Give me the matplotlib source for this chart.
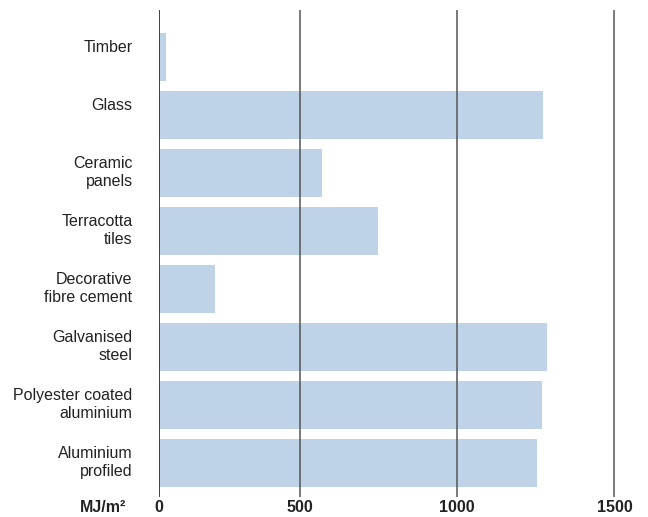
import matplotlib
matplotlib.use("Agg")
import matplotlib.pyplot as plt

categories = ["Timber", "Glass", "Ceramic\npanels", "Terracotta\ntiles",
              "Decorative\nfibre cement", "Galvanised\nsteel",
              "Polyester coated\naluminium", "Aluminium\nprofiled"]
values = [74, 1273, 570, 748, 230, 1285, 1269, 1254]
tick_values = [500, 1000, 1500]
tick_labels = ["500", "1000", "1500"]
unit_label = "MJ/m²"

plt.rcParams['font.family'] = ['Liberation Sans', 'DejaVu Sans']

fig = plt.figure(figsize=(6.48, 5.17), dpi=100)
W, H = 648, 517
ax = fig.add_axes([159 / W, (H - 497) / H, (640 - 159) / W, (497 - 10) / H])

xmin = 51.7
xmax = xmin + (640 - 159) / 0.3145
ax.set_xlim(xmin, xmax)
ax.set_ylim(7.59, -0.81)

bar_h = 0.83
ypos = list(range(len(categories)))
ax.barh(ypos, values, left=0, height=bar_h, color="#bfd3e8", zorder=1)

for t in tick_values:
    ax.axvline(t, color="#555555", lw=1.1, zorder=3)
ax.axvline(xmin, color="#333333", lw=1.3, zorder=3)

for s in ax.spines.values():
    s.set_visible(False)
ax.set_xticks([])
ax.set_yticks([])

for y, c in zip(ypos, categories):
    ax.text(xmin - 84, y - bar_h / 2 + 7.5 / 58, c, ha="right", va="top", fontsize=11.5,
            color="#222222", linespacing=1.22)

ty = 7.59 + 11 / 58
for t, lab in zip([xmin] + tick_values, ["0"] + tick_labels):
    ax.text(t, ty, lab, ha="center", va="center", fontsize=11.5,
            fontweight="bold", color="#222222", clip_on=False)
ax.text(xmin - 33 / 0.3145, ty, unit_label, ha="right", va="center", fontsize=11.5,
        fontweight="bold", color="#222222", clip_on=False)

fig.savefig("out.png", dpi=100)
